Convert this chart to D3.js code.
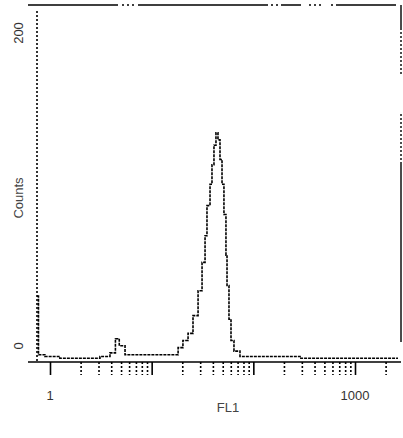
<!DOCTYPE html>
<html><head><meta charset="utf-8">
<script src="https://cdn.jsdelivr.net/npm/d3@7"></script>
<style>body{margin:0;background:#fff}svg{display:block}</style>
</head><body>
<svg id="c" width="403" height="438"></svg>
<script>
// FL1 channel values (log scale) and event counts
const fl1 = [0.745,0.77,0.89,1.25,1.97,3.10,3.89,4.40,4.80,5.47,7.68,12.1,15.8,18.2,20.3,22.8,25.5,28.6,31.3,33.5,35.0,37.5,39.2,41.0,42.9,44.9,47.0,49.2,51.4,53.8,55.1,57.6,60.3,64.5,73.9,116,288,893,2650];
const counts = [36,3,2,1,1,2,4,12,8,3,3,3,3,7,11,15,25,39,55,70,87,99,110,121,128,124,113,99,82,59,42,23,11,5,2,2,1,1,1];
const xTickLabels = ["1","1000"];
const xTickValues = [1,1000];
const yTickLabels = ["0","200"];
const yTickValues = [0,200];
const xLabel = "FL1";
const yLabel = "Counts";

(function(){
const svg = d3.select("#c");
const x = d3.scaleLog().domain([1,1000]).range([50,355]);
const y = d3.scaleLinear().domain([0,200]).range([360,5]);
const pL = 37, pR = 401, pT = 5, pB = 362;

// frame
svg.append("line").attr("x1",pL).attr("x2",pL).attr("y1",pT+6).attr("y2",pB)
  .attr("stroke","#000").attr("stroke-width",1.6).attr("stroke-dasharray","2,2");
svg.append("line").attr("x1",28).attr("x2",pR).attr("y1",pT).attr("y2",pT)
  .attr("stroke","#000").attr("stroke-width",1.4).attr("stroke-dasharray","90,4,2,3,2,3,2,4,130,3,2,3,2,3,20,8,2,3,2,3,2,10,2,3,60");
svg.append("line").attr("x1",pR).attr("x2",pR).attr("y1",pT).attr("y2",pB)
  .attr("stroke","#000").attr("stroke-width",1.4).attr("stroke-dasharray","25,2,2,2,2,2,2,2,2,2,2,2,2,2,2,2,2,2,2,2,2,2,2,40,2,2,2,2,2,2,2,2,2,2,2,2,2,2,2,2,2,2,2,2,2,2,2,2,180");
svg.append("line").attr("x1",28).attr("x2",pR).attr("y1",pB).attr("y2",pB)
  .attr("stroke","#000").attr("stroke-width",1.5);

// log ticks below axis
const minor = [];
for (let d = 1; d <= 1000; d *= 10) for (let k = 1; k < 10; k++) { const v = d*k; if (x(v) <= 398) minor.push(v); }
const axis = d3.axisBottom(x).tickValues(minor).tickSize(13).tickFormat("");
const g = svg.append("g").attr("transform",`translate(0,${pB})`).call(axis);
g.select(".domain").remove();
g.selectAll(".tick line").attr("stroke","#000").attr("stroke-width",1.6)
  .attr("stroke-dasharray",d => (Math.abs(Math.log10(d)%1) < 1e-9) ? null : "2,2");

// histogram trace
const line = d3.line().x(d => x(d[0])).y(d => y(d[1])).curve(d3.curveStepAfter);
svg.append("path").datum(fl1.map((v,i)=>[v,counts[i]]))
  .attr("d",line).attr("fill","none").attr("stroke","#000").attr("stroke-width",1.6)
  .attr("stroke-dasharray","3,1");

// labels
const font = "Liberation Sans, Arial, sans-serif";
xTickLabels.forEach((t,i) => {
  svg.append("text").attr("x",x(xTickValues[i])).attr("y",400).attr("text-anchor","middle")
    .attr("font-family",font).attr("font-size",13).attr("fill","#333").text(t);
});
yTickLabels.forEach((t,i) => {
  const yy = i===0 ? y(yTickValues[i]) - 14 : y(yTickValues[i]) + 28;
  svg.append("text").attr("transform",`translate(23,${yy}) rotate(-90)`).attr("text-anchor","middle")
    .attr("font-family",font).attr("font-size",13).attr("fill","#333").text(t);
});
svg.append("text").attr("x",228).attr("y",412).attr("text-anchor","middle")
  .attr("font-family",font).attr("font-size",13).attr("fill","#444").text(xLabel);
svg.append("text").attr("transform","translate(23,198) rotate(-90)").attr("text-anchor","middle")
  .attr("font-family",font).attr("font-size",13).attr("fill","#444").text(yLabel);
})();
</script>
</body></html>
